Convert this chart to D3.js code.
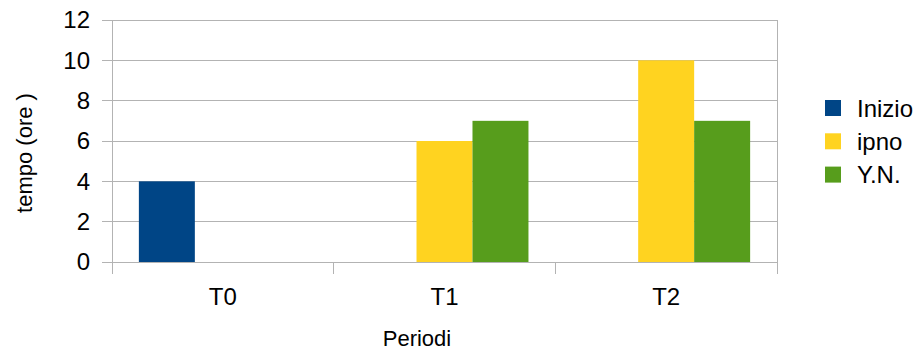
<!DOCTYPE html>
<html><head><meta charset="utf-8">
<script src="https://cdn.jsdelivr.net/npm/d3@7"></script>
<style>body{margin:0;background:#fff}svg{display:block}text{font-family:"Liberation Sans",Arial,sans-serif;fill:#000}</style>
</head><body>
<svg id="c" width="922" height="353"></svg>
<script>
const categories = ["T0", "T1", "T2"];
const seriesNames = ["Inizio", "ipno", "Y.N."];
const inizio = [4, null, null];
const ipno = [null, 6, 10];
const yn = [null, 7, 7];
const yTicks = [0, 2, 4, 6, 8, 10, 12];
const colors = ["#004586", "#ffd320", "#579d1c"];
const seriesValues = [inizio, ipno, yn];

const svg = d3.select("#c");
const L = 112, R = 777, T = 20, B = 262;
const x = d3.scaleBand().domain(categories).range([L, R]);
const x1 = d3.scaleBand().domain(seriesNames).range([0, x.bandwidth()]).paddingOuter(0.48).paddingInner(0);
const y = d3.scaleLinear().domain([0, 12]).range([B, T]);

// gridlines
svg.append("g").selectAll("line").data(yTicks).join("line")
  .attr("x1", L - 10).attr("x2", R).attr("y1", d => y(d)).attr("y2", d => y(d))
  .attr("stroke", "#b3b3b3").attr("stroke-width", 1).attr("shape-rendering", "crispEdges");
// right border
svg.append("line").attr("x1", R).attr("x2", R).attr("y1", T).attr("y2", B)
  .attr("stroke", "#b3b3b3").attr("shape-rendering", "crispEdges");

// bars
seriesNames.forEach((s, i) => {
  svg.append("g").selectAll("rect")
    .data(categories.map((c, j) => ({c, v: seriesValues[i][j]})).filter(d => d.v != null))
    .join("rect")
    .attr("x", d => x(d.c) + x1(s)).attr("width", x1.bandwidth())
    .attr("y", d => y(d.v)).attr("height", d => B - y(d.v))
    .attr("fill", colors[i]);
});

// y axis line
svg.append("line").attr("x1", L).attr("x2", L).attr("y1", T).attr("y2", B + 12)
  .attr("stroke", "#b3b3b3").attr("shape-rendering", "crispEdges");
// category ticks
const bounds = categories.map(c => x(c) + x.bandwidth());
svg.append("g").selectAll("line").data(bounds).join("line")
  .attr("x1", d => d).attr("x2", d => d).attr("y1", B).attr("y2", B + 12)
  .attr("stroke", "#b3b3b3").attr("shape-rendering", "crispEdges");

// y tick labels
svg.append("g").selectAll("text").data(yTicks).join("text")
  .attr("x", 90).attr("y", d => y(d)).attr("dy", "0.35em")
  .attr("text-anchor", "end").attr("font-size", 24).text(d => d);

// x labels
svg.append("g").selectAll("text").data(categories).join("text")
  .attr("x", d => x(d) + x.bandwidth() / 2).attr("y", 305)
  .attr("text-anchor", "middle").attr("font-size", 24).text(d => d);

// axis titles
svg.append("text").attr("x", 417).attr("y", 346).attr("text-anchor", "middle")
  .attr("font-size", 22).text("Periodi");
svg.append("text").attr("transform", "translate(32,153) rotate(-90)").attr("text-anchor", "middle")
  .attr("font-size", 22).text("tempo (ore )");

// legend
const lg = svg.append("g");
seriesNames.forEach((s, i) => {
  const yy = 100 + i * 33.3;
  lg.append("rect").attr("x", 825).attr("y", yy).attr("width", 16).attr("height", 16).attr("fill", colors[i]);
  lg.append("text").attr("x", 857).attr("y", yy + 16.5).attr("font-size", 24).text(s);
});
</script>
</body></html>
